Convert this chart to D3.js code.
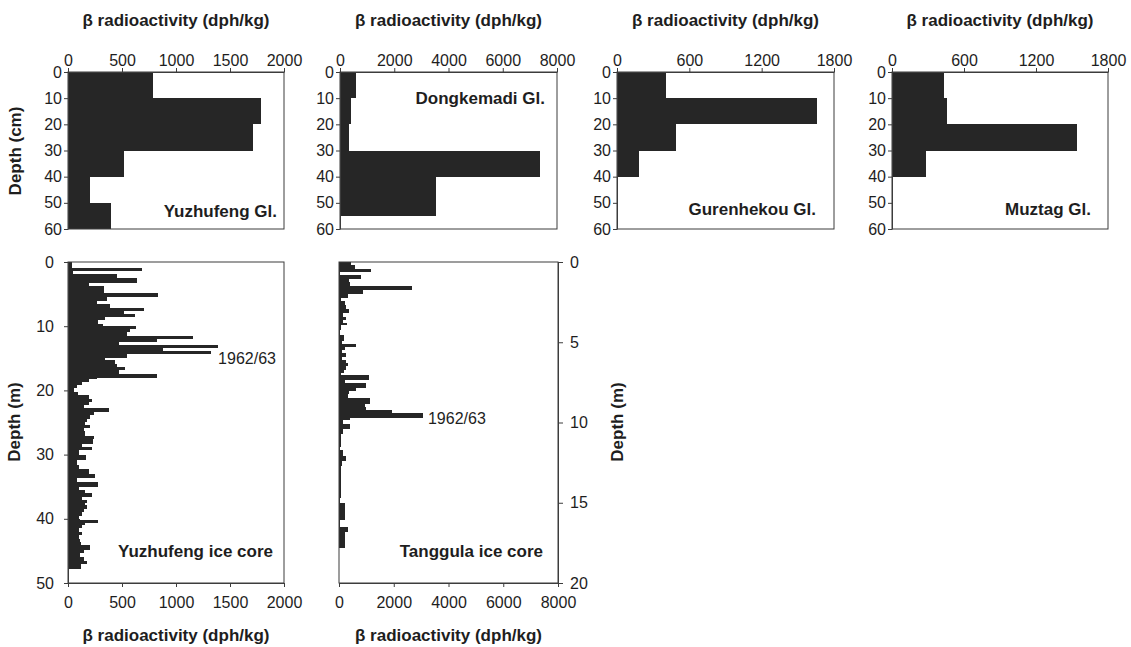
<!DOCTYPE html>
<html>
<head>
<meta charset="utf-8">
<script src="https://cdn.jsdelivr.net/npm/d3@7"></script>
<style>
  html, body { margin: 0; padding: 0; background: #fff; }
  svg text { font-family: Arial, "Liberation Sans", sans-serif; fill: #1e1e1e; }
</style>
</head>
<body>
<svg id="chart" width="1131" height="647"></svg>
<script>
// ---------------- DATA ----------------
// Snow pits (depth boundaries in cm, values in dph/kg)
const yzGlDepth = [0, 10, 20, 30, 40, 50, 60];
const yzGlValue = [790, 1790, 1710, 515, 200, 400];

const dkGlDepth = [0, 10, 20, 30, 40, 55];
const dkGlValue = [590, 406, 332, 7380, 3530];

const ghGlDepth = [0, 10, 20, 30, 40];
const ghGlValue = [404, 1656, 493, 183];

const mzGlDepth = [0, 10, 20, 30, 40];
const mzGlValue = [431, 461, 1545, 281];

// Yuzhufeng ice core (sample top depth in m, value in dph/kg)
const yzCoreTop = [0.0, 1.0, 1.4, 1.9, 2.5, 3.2, 3.8, 4.9, 5.4, 6.1, 6.6, 7.1, 7.6, 8.1, 8.6, 9.0, 9.6,
  10.0, 10.5, 10.9, 11.5, 12.0, 12.5, 12.9, 13.4, 13.8, 14.3, 14.9, 15.3, 15.9, 16.3, 16.8, 17.4,
  18.0, 18.3, 18.7, 19.2, 19.7, 20.2, 20.7, 21.3, 21.8, 22.3, 22.8, 23.3, 23.9, 24.4, 24.9,
  25.4, 25.9, 26.4, 27.1, 27.5, 28.3, 28.8, 29.3, 30.1, 30.9, 31.6, 32.2, 33.0, 33.6, 34.2,
  35.0, 35.5, 36.0, 36.6, 37.0, 37.5, 37.9, 38.4, 38.9, 39.5, 40.0, 40.2, 40.6, 41.0, 41.5,
  42.0, 42.6, 43.1, 43.6, 44.1, 44.8, 45.3, 45.9, 46.5, 47.0];
const yzCoreValue = [35, 684, 50, 453, 638, 191, 330, 832, 360, 268, 391, 700, 515, 616, 345, 274, 324,
  632, 576, 545, 1153, 823, 468, 1386, 875, 1325, 545, 345, 437, 452, 530, 468, 823,
  268, 191, 129, 83, 52, 92, 191, 222, 191, 145, 376, 237, 206, 175, 160,
  206, 145, 160, 237, 228, 129, 222, 98, 166, 83, 104, 191, 246, 83, 277,
  98, 160, 222, 129, 175, 160, 175, 145, 129, 98, 114, 277, 160, 129, 104,
  129, 98, 114, 123, 206, 145, 114, 145, 175, 123];
const yzCoreEnd = 47.8;

// Tanggula ice core (sample top depth in m, value in dph/kg)
const tgCoreTop = [0.0, 0.2, 0.45, 0.62, 0.83, 1.04, 1.25, 1.5, 1.72, 1.97, 2.22, 2.43, 2.7, 2.9, 3.2, 3.4,
  3.6, 3.8, 3.95, 4.26, 4.57, 4.9, 5.1, 5.3, 5.5, 5.7, 5.9, 6.1, 6.3, 6.5, 6.75, 6.9, 7.07, 7.33,
  7.55, 7.84, 8.05, 8.25, 8.46, 8.67, 8.84, 9.05, 9.25, 9.42, 9.71, 9.87, 10.1, 10.4, 10.7, 11.5,
  11.7, 12.1, 12.4, 12.7, 14.7, 15.0, 16.1, 16.5, 16.8];
const tgCoreValue = [453, 575, 1185, 50, 819, 367, 392, 2676, 880, 330, 87, 209, 270, 367, 148, 270,
  148, 294, 87, 50, 172, 123, 612, 209, 123, 245, 123, 270, 330, 245, 172, 87, 1099, 209,
  1001, 612, 367, 330, 1124, 1124, 941, 978, 1918, 3053, 392, 148, 392, 148, 87, 50,
  148, 245, 123, 87, 25, 209, 25, 330, 209];
const tgCoreEnd = 17.8;

// Tick values
const ticksX2000 = [0, 500, 1000, 1500, 2000];
const ticksX8000 = [0, 2000, 4000, 6000, 8000];
const ticksX1800 = [0, 600, 1200, 1800];
const ticksDepthCm = [0, 10, 20, 30, 40, 50, 60];
const ticksDepthYz = [0, 10, 20, 30, 40, 50];
const ticksDepthTg = [0, 5, 10, 15, 20];

const xTitle = "β radioactivity (dph/kg)";

// ---------------- DRAW ----------------
const svg = d3.select("#chart");
const BAR = "#262626";
const AX = "#3c3c3c";

function toSegments(bounds, values) {
  return values.map((v, i) => ({ top: bounds[i], bottom: bounds[i + 1], v }));
}
function toSegmentsTop(tops, values, end) {
  return values.map((v, i) => ({ top: tops[i], bottom: i + 1 < tops.length ? tops[i + 1] : end, v }));
}

function panel(o) {
  const g = svg.append("g");
  const x = d3.scaleLinear().domain(o.xDomain).range([o.x0, o.x1]);
  const y = d3.scaleLinear().domain(o.yDomain).range([o.y0, o.y1]);

  g.selectAll("rect.bar").data(o.segs).join("rect")
    .attr("class", "bar")
    .attr("x", x(0))
    .attr("y", d => y(d.top))
    .attr("width", d => Math.max(0, x(d.v) - x(0)))
    .attr("height", d => y(d.bottom) - y(d.top))
    .attr("fill", BAR)
    .attr("shape-rendering", "crispEdges");

  // frame
  g.append("rect")
    .attr("x", o.x0).attr("y", o.y0)
    .attr("width", o.x1 - o.x0).attr("height", o.y1 - o.y0)
    .attr("fill", "none").attr("stroke", AX).attr("stroke-width", 1);

  // x axis
  const xa = (o.xPos === "top" ? d3.axisTop(x) : d3.axisBottom(x))
    .tickValues(o.xTicks).tickSize(4).tickSizeOuter(0).tickPadding(o.xPad)
    .tickFormat(d3.format("d"));
  const gx = g.append("g")
    .attr("transform", `translate(0,${o.xPos === "top" ? o.y0 : o.y1})`)
    .call(xa);

  // y axis
  const ya = (o.yPos === "left" ? d3.axisLeft(y) : d3.axisRight(y))
    .tickValues(o.yTicks).tickSize(o.yTickSize).tickSizeOuter(0).tickPadding(o.yPad)
    .tickFormat(d3.format("d"));
  const gy = g.append("g")
    .attr("transform", `translate(${o.yPos === "left" ? o.x0 : o.x1},0)`)
    .call(ya);

  [gx, gy].forEach(a => {
    a.select(".domain").attr("stroke", AX);
    a.selectAll(".tick line").attr("stroke", AX);
    a.selectAll(".tick text")
      .attr("font-size", 16)
      .attr("fill", "#1e1e1e")
      .style("font-family", "Arial, 'Liberation Sans', sans-serif");
  });

  // x title
  g.append("text")
    .attr("x", (o.x0 + o.x1) / 2)
    .attr("y", o.xTitleY)
    .attr("text-anchor", "middle")
    .attr("dominant-baseline", "central")
    .attr("font-size", 17).attr("font-weight", "bold")
    .text(xTitle);

  // panel label
  g.append("text")
    .attr("x", o.labelX).attr("y", o.labelY)
    .attr("text-anchor", "end")
    .attr("font-size", 17).attr("font-weight", "bold")
    .text(o.label);

  if (o.note) {
    g.append("text")
      .attr("x", x(o.note.v)).attr("y", y(o.note.d))
      .attr("dominant-baseline", "central")
      .attr("font-size", 16)
      .text(o.note.text);
  }
  return { x, y };
}

const TOP0 = 72, TOP1 = 229;
const BOT0 = 262, BOT1 = 583;

panel({ x0: 68, x1: 284, y0: TOP0, y1: TOP1, xDomain: [0, 2000], yDomain: [0, 60],
  segs: toSegments(yzGlDepth, yzGlValue), xPos: "top", xTicks: ticksX2000, xPad: 2,
  yPos: "left", yTicks: ticksDepthCm, yTickSize: 4, yPad: 2, xTitleY: 20,
  label: "Yuzhufeng Gl.", labelX: 277, labelY: 217 });

panel({ x0: 340, x1: 557, y0: TOP0, y1: TOP1, xDomain: [0, 8000], yDomain: [0, 60],
  segs: toSegments(dkGlDepth, dkGlValue), xPos: "top", xTicks: ticksX8000, xPad: 2,
  yPos: "left", yTicks: ticksDepthCm, yTickSize: 4, yPad: 2, xTitleY: 20,
  label: "Dongkemadi Gl.", labelX: 545, labelY: 104 });

panel({ x0: 617, x1: 834, y0: TOP0, y1: TOP1, xDomain: [0, 1800], yDomain: [0, 60],
  segs: toSegments(ghGlDepth, ghGlValue), xPos: "top", xTicks: ticksX1800, xPad: 2,
  yPos: "left", yTicks: ticksDepthCm, yTickSize: 4, yPad: 2, xTitleY: 20,
  label: "Gurenhekou Gl.", labelX: 816, labelY: 215 });

panel({ x0: 892, x1: 1108, y0: TOP0, y1: TOP1, xDomain: [0, 1800], yDomain: [0, 60],
  segs: toSegments(mzGlDepth, mzGlValue), xPos: "top", xTicks: ticksX1800, xPad: 2,
  yPos: "left", yTicks: ticksDepthCm, yTickSize: 4, yPad: 2, xTitleY: 20,
  label: "Muztag Gl.", labelX: 1091, labelY: 215 });

panel({ x0: 68, x1: 284, y0: BOT0, y1: BOT1, xDomain: [0, 2000], yDomain: [0, 50],
  segs: toSegmentsTop(yzCoreTop, yzCoreValue, yzCoreEnd), xPos: "bottom", xTicks: ticksX2000, xPad: 10,
  yPos: "left", yTicks: ticksDepthYz, yTickSize: 4, yPad: 10, xTitleY: 635,
  label: "Yuzhufeng ice core", labelX: 273, labelY: 557,
  note: { text: "1962/63", v: 1390, d: 15.1 } });

panel({ x0: 339, x1: 558, y0: BOT0, y1: BOT1, xDomain: [0, 8000], yDomain: [0, 20],
  segs: toSegmentsTop(tgCoreTop, tgCoreValue, tgCoreEnd), xPos: "bottom", xTicks: ticksX8000, xPad: 10,
  yPos: "right", yTicks: ticksDepthTg, yTickSize: 5, yPad: 7, xTitleY: 635,
  label: "Tanggula ice core", labelX: 543, labelY: 557,
  note: { text: "1962/63", v: 3250, d: 9.72 } });

// y titles
function yTitle(x, y, text) {
  svg.append("text")
    .attr("transform", `translate(${x},${y}) rotate(-90)`)
    .attr("text-anchor", "middle")
    .attr("dominant-baseline", "central")
    .attr("font-size", 17).attr("font-weight", "bold")
    .text(text);
}
yTitle(15, 151, "Depth (cm)");
yTitle(14, 422, "Depth (m)");
yTitle(617, 422, "Depth (m)");
</script>
</body>
</html>
